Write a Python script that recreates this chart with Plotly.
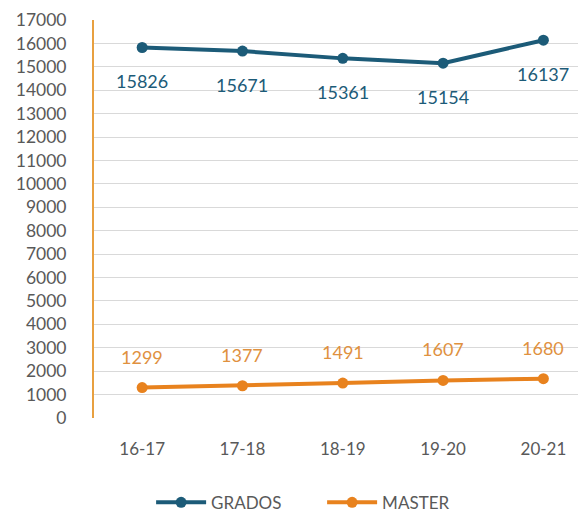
import plotly.graph_objects as go

categories = ["16-17", "17-18", "18-19", "19-20", "20-21"]
grados = [15826, 15671, 15361, 15154, 16137]
master = [1299, 1377, 1491, 1607, 1680]
y_ticks = list(range(0, 17001, 1000))
y_tick_labels = [str(v) for v in y_ticks]

C_GRADOS = "#1C5B78"
C_MASTER = "#E8821E"
C_MASTER_TXT = "#E0913F"
FONT = "Lato, 'Open Sans', sans-serif"

fig = go.Figure()
fig.add_trace(go.Scatter(x=categories, y=grados, name="GRADOS", mode="lines+markers",
                         line=dict(color=C_GRADOS, width=4), marker=dict(size=11, color=C_GRADOS)))
fig.add_trace(go.Scatter(x=categories, y=master, name="MASTER", mode="lines+markers",
                         line=dict(color=C_MASTER, width=4), marker=dict(size=11, color=C_MASTER)))

for c, v in zip(categories, grados):
    fig.add_annotation(x=c, y=v, text=str(v), showarrow=False, yshift=-34,
                       font=dict(family=FONT, size=18, color=C_GRADOS))
for c, v in zip(categories, master):
    fig.add_annotation(x=c, y=v, text=str(v), showarrow=False, yshift=31,
                       font=dict(family=FONT, size=18, color=C_MASTER_TXT))

fig.update_layout(
    width=578, height=514,
    margin=dict(l=94, r=0, t=20, b=96, autoexpand=False),
    paper_bgcolor="white", plot_bgcolor="white",
    font=dict(family=FONT, size=17, color="#595959"),
    showlegend=True,
    legend=dict(orientation="h", x=0.118, xanchor="left", y=-0.213, yanchor="middle",
                font=dict(family=FONT, size=17, color="#595959"), itemwidth=50,
                entrywidth=106, entrywidthmode="pixels"),
)
fig.update_xaxes(range=[-0.48, 4.345], showgrid=False, showline=False, zeroline=False,
                 ticks="", ticklabelstandoff=19, automargin=False,
                 tickfont=dict(size=17, color="#595959"))
fig.update_yaxes(range=[0, 17000], tickvals=y_ticks, ticktext=y_tick_labels, showgrid=True,
                 gridcolor="#D9D9D9", gridwidth=1, zeroline=False, showline=True,
                 linecolor="#E8A040", linewidth=2, automargin=False,
                 ticks="", ticklabelstandoff=22, tickfont=dict(size=17.5, color="#595959"))

fig.write_html("out.html", config={"displayModeBar": False},
               post_script="document.body.style.margin='0';document.body.style.overflow='hidden';")
